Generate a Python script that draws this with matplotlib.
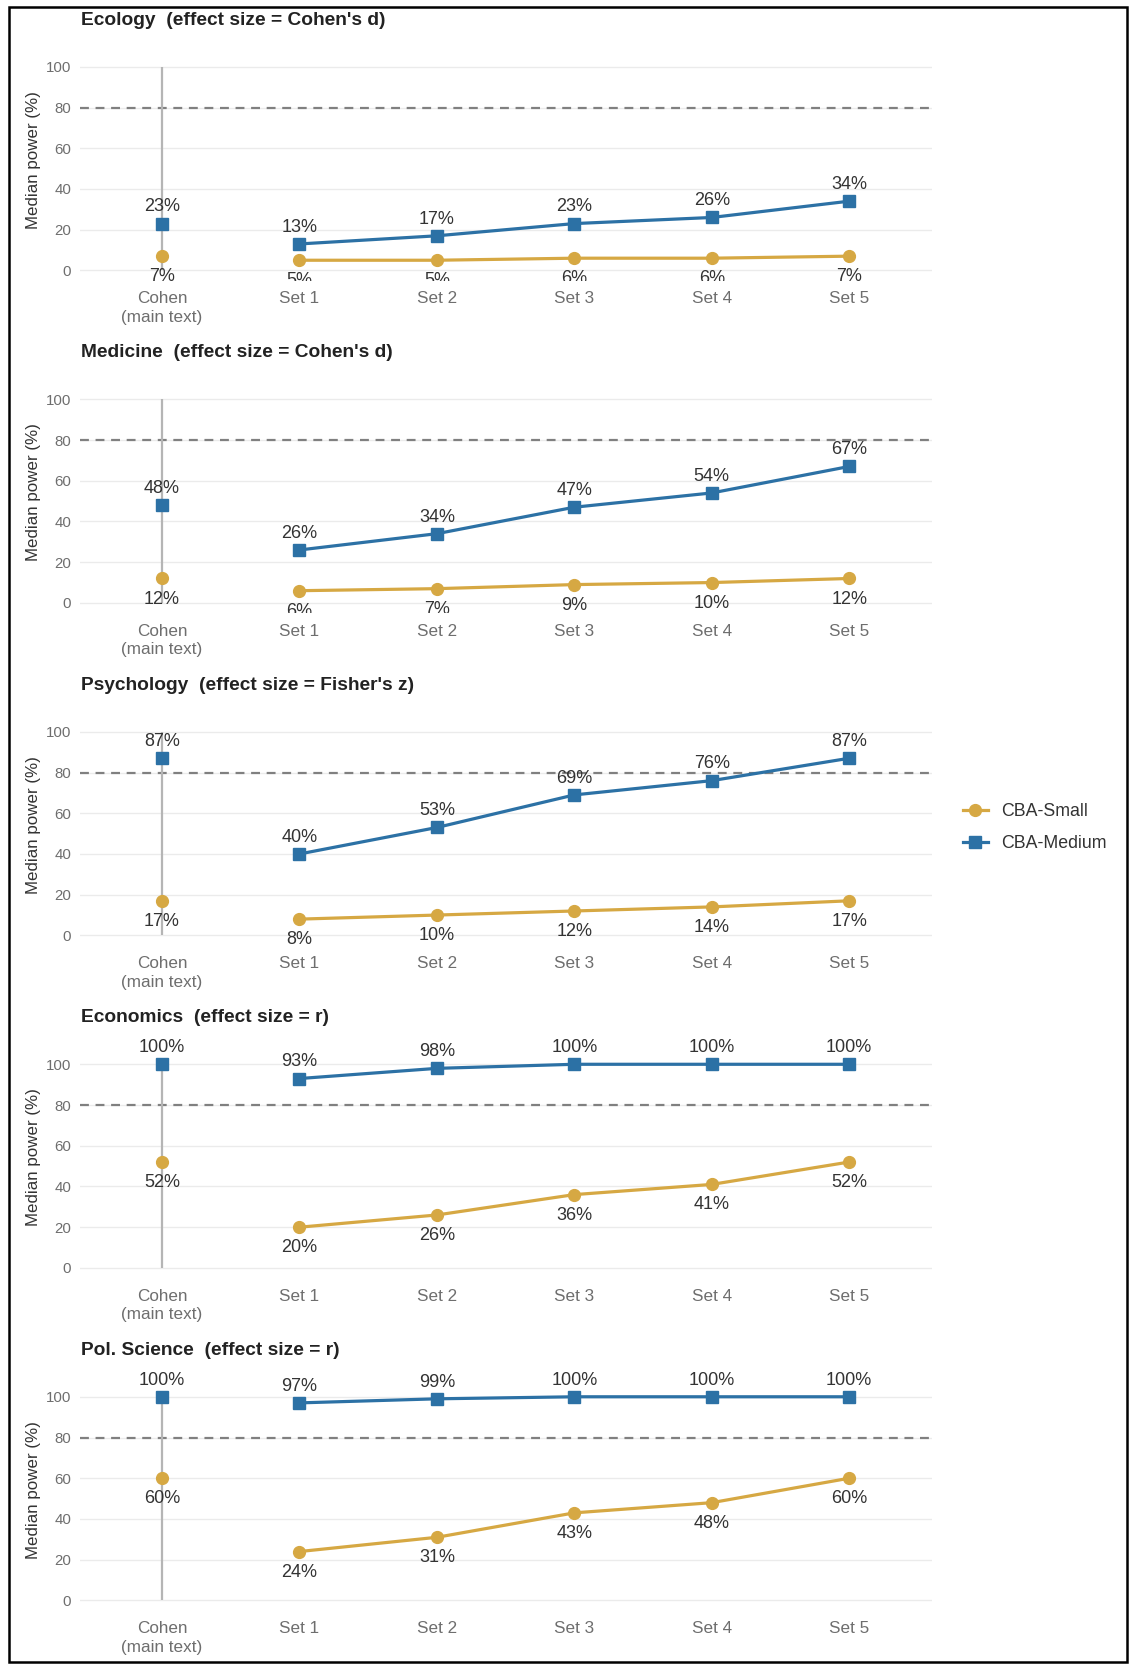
import matplotlib
matplotlib.use("Agg")
import matplotlib.pyplot as plt
from matplotlib.lines import Line2D
from matplotlib.patches import Rectangle
from matplotlib.transforms import Bbox, TransformedBbox

plt.rcParams['font.family'] = ['Liberation Sans', 'DejaVu Sans']

# ---------------- data ----------------
categories = ["Cohen\n(main text)", "Set 1", "Set 2", "Set 3", "Set 4", "Set 5"]
panel_titles = ["Ecology  (effect size = Cohen's d)",
                "Medicine  (effect size = Cohen's d)",
                "Psychology  (effect size = Fisher's z)",
                "Economics  (effect size = r)",
                "Pol. Science  (effect size = r)"]

cohen_medium = [23, 48, 87, 100, 100]
cohen_small = [7, 12, 17, 52, 60]

ecology_medium = [13, 17, 23, 26, 34]
ecology_small = [5, 5, 6, 6, 7]
medicine_medium = [26, 34, 47, 54, 67]
medicine_small = [6, 7, 9, 10, 12]
psychology_medium = [40, 53, 69, 76, 87]
psychology_small = [8, 10, 12, 14, 17]
economics_medium = [93, 98, 100, 100, 100]
economics_small = [20, 26, 36, 41, 52]
polsci_medium = [97, 99, 100, 100, 100]
polsci_small = [24, 31, 43, 48, 60]

medium_sets = [ecology_medium, medicine_medium, psychology_medium, economics_medium, polsci_medium]
small_sets = [ecology_small, medicine_small, psychology_small, economics_small, polsci_small]

yticks = [0, 20, 40, 60, 80, 100]
threshold = 80
series_names = ["CBA-Small", "CBA-Medium"]

# ---------------- style ----------------
W, H = 1132, 1667
C_SMALL = "#D6A843"
C_MED = "#2C71A5"
GRID = "#EBEBEB"

fig = plt.figure(figsize=(W / 100, H / 100), dpi=100)

ax_left = 79.6
ax_w = 852.0
ax_h = 224.0
top0 = 56.6
step = 332.5

xs_sets = list(range(1, 6))

for k in range(5):
    top_px = top0 + step * k
    ax = fig.add_axes([ax_left / W, 1 - (top_px + ax_h) / H, ax_w / W, ax_h / H])
    ax.set_xlim(-0.6, 5.6)
    ax.set_ylim(-5, 105)
    for s in ax.spines.values():
        s.set_visible(False)
    for y in yticks:
        ax.axhline(y, color=GRID, lw=1.0, zorder=0)
    ax.axhline(threshold, color="#808080", lw=1.6, ls=(0, (4, 3)), zorder=1)
    ax.vlines(0, 0, 100, color="#B5B5B5", lw=1.6, zorder=1)

    ax.set_yticks(yticks)
    ax.set_yticklabels([str(v) for v in yticks], fontsize=10.8, color="#6E6E6E")
    ax.set_xticks(range(6))
    ax.set_xticklabels(categories, fontsize=12.3, color="#6E6E6E", linespacing=1.3)
    ax.tick_params(axis='both', length=0)
    ax.tick_params(axis='y', pad=6)
    ax.tick_params(axis='x', pad=7.5)

    med = medium_sets[k]
    sml = small_sets[k]
    ax.plot(xs_sets, sml, color=C_SMALL, lw=2.3, marker='o', ms=8.5, zorder=3)
    ax.plot(xs_sets, med, color=C_MED, lw=2.3, marker='s', ms=8, zorder=4)
    ax.plot([0], [cohen_small[k]], color=C_SMALL, marker='o', ms=8.5, ls='none', zorder=3)
    ax.plot([0], [cohen_medium[k]], color=C_MED, marker='s', ms=8, ls='none', zorder=4)

    clipbox = TransformedBbox(Bbox([[-0.6, -5], [5.6, 200]]), ax.transData)
    allx = [0] + xs_sets
    allmed = [cohen_medium[k]] + med
    allsml = [cohen_small[k]] + sml
    for x, v in zip(allx, allmed):
        t = ax.annotate(f"{v}%", (x, v), xytext=(0, 12.0), textcoords='offset points',
                        ha='center', va='center', fontsize=13, color="#333333", zorder=5)
        t.set_clip_on(False)
    for x, v in zip(allx, allsml):
        t = ax.annotate(f"{v}%", (x, v), xytext=(0, -14.8), textcoords='offset points',
                        ha='center', va='center', fontsize=13, color="#333333", zorder=5)
        t.set_clip_on(True)
        t.set_clip_box(clipbox)

    fig.text(80.6 / W, 1 - (top_px - 36.5) / H, panel_titles[k], fontsize=13.8,
             fontweight='bold', color="#222222", ha='left', va='center')
    fig.text(34 / W, 1 - (top_px + 103) / H, "Median power (%)", rotation=90,
             fontsize=12.2, color="#333333", ha='center', va='center')

handles = [Line2D([], [], color=C_SMALL, lw=2.3, marker='o', ms=8.5),
           Line2D([], [], color=C_MED, lw=2.3, marker='s', ms=8)]
fig.legend(handles, series_names, loc='center left',
           bbox_to_anchor=(963 / W, 1 - 827.5 / H), frameon=False, fontsize=12.8,
           handlelength=1.4, handletextpad=0.75, labelspacing=0.85,
           borderpad=0, borderaxespad=0, labelcolor="#333333")

fig.patches.append(Rectangle((8.5 / W, 1 - 1662 / H), (1127 - 8.5) / W, (1662 - 7.4) / H,
                             transform=fig.transFigure, fill=False, ec="black", lw=1.8))

fig.savefig("out.png", dpi=100, facecolor="white")
